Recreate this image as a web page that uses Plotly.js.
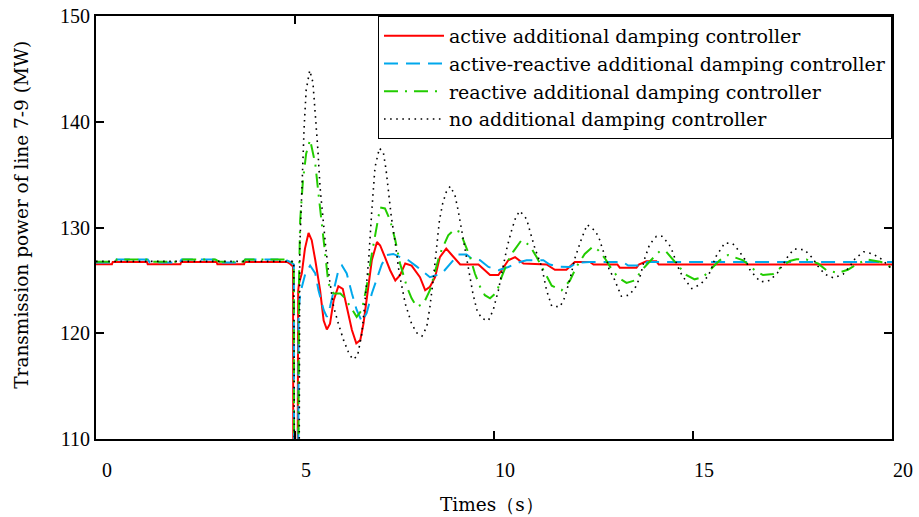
<!DOCTYPE html>
<html>
<head>
<meta charset="utf-8">
<script src="https://cdn.plot.ly/plotly-3.0.1.min.js"></script>
<style>html,body{margin:0;padding:0;background:#fff;}#chart{width:919px;height:517px;}</style>
</head>
<body>
<div id="chart"></div>
<script>
// Series names
var seriesNames = [
  "active additional damping controller",
  "active-reactive additional damping controller",
  "reactive additional damping controller",
  "no additional damping controller"
];
var xTickLabels = ["0", "5", "10", "15", "20"];
var yTickLabels = ["110", "120", "130", "140", "150"];
var xTitle = "Times（s）";
var yTitle = "Transmission power of line 7-9 (MW)";

// active additional damping controller (red)
var activeT = [0, 0.4, 0.42, 1.28, 1.3, 2.12, 2.14, 3.03, 3.05, 3.72, 3.74, 4.8, 4.88, 4.95, 4.96, 5.06, 5.08, 5.10, 5.17, 5.25, 5.34, 5.42, 5.51, 5.63, 5.72, 5.80, 5.88, 5.97, 6.09, 6.20, 6.30, 6.43, 6.54, 6.64, 6.72, 6.82, 6.93, 7.06, 7.14, 7.26, 7.39, 7.52, 7.64, 7.77, 7.93, 8.14, 8.27, 8.39, 8.52, 8.64, 8.80, 8.94, 9.15, 9.61, 9.90, 10.11, 10.36, 10.53, 10.74, 11.32, 11.53, 11.82, 12.03, 12.41, 12.5, 13.1, 13.16, 13.58, 13.64, 13.83, 14.08, 14.14, 20];
var activeV = [126.52, 126.52, 126.74, 126.74, 126.52, 126.52, 126.74, 126.74, 126.52, 126.52, 126.74, 126.74, 126.55, 126.3, 100, 100, 124.0, 124.7, 125.65, 128.0, 129.48, 128.8, 126.9, 124.07, 121.2, 120.36, 120.9, 123.1, 124.45, 124.2, 122.5, 120.3, 119.04, 119.35, 120.9, 123.76, 126.9, 128.63, 128.3, 127.2, 125.96, 125.0, 125.5, 126.6, 126.4, 125.3, 124.07, 124.4, 125.3, 127.2, 128.0, 127.4, 126.5, 126.5, 125.5, 125.5, 126.9, 127.2, 126.6, 126.5, 126.0, 126.0, 126.74, 126.74, 126.5, 126.5, 126.2, 126.2, 126.5, 126.8, 126.8, 126.5, 126.5];

// active-reactive additional damping controller (blue)
var actReactT = [0, 0.5, 0.52, 1.3, 1.35, 2.1, 2.15, 3.0, 3.1, 3.7, 3.75, 4.75, 4.9, 4.97, 4.98, 5.08, 5.09, 5.13, 5.26, 5.38, 5.51, 5.59, 5.72, 5.80, 5.88, 5.97, 6.09, 6.18, 6.30, 6.43, 6.55, 6.68, 6.80, 6.93, 7.06, 7.18, 7.31, 7.47, 7.64, 7.85, 8.06, 8.23, 8.39, 8.69, 8.94, 9.10, 9.31, 9.44, 9.65, 9.86, 10.11, 10.36, 10.65, 10.82, 11.24, 11.40, 11.61, 11.91, 12.07, 12.41, 13.24, 13.37, 13.75, 13.85, 20];
var actReactV = [126.7, 126.7, 126.97, 126.97, 126.7, 126.7, 126.97, 126.97, 126.7, 126.7, 126.97, 126.97, 126.7, 126.5, 100, 100, 122.0, 123.76, 125.65, 126.4, 125.65, 124.07, 122.2, 121.55, 122.5, 124.07, 125.96, 126.4, 125.65, 123.76, 122.2, 121.1, 121.9, 123.76, 125.3, 126.5, 127.4, 127.5, 127.2, 126.9, 126.3, 125.8, 125.3, 125.65, 126.74, 127.44, 127.44, 127.06, 126.9, 126.27, 125.96, 126.27, 126.74, 126.9, 126.9, 126.5, 126.3, 126.27, 126.65, 126.74, 126.74, 126.4, 126.4, 126.74, 126.74];

// reactive additional damping controller (green)
var reactT = [0, 0.5, 0.52, 1.3, 1.35, 2.1, 2.15, 3.0, 3.1, 3.7, 3.75, 4.75, 4.9, 4.97, 4.98, 5.08, 5.10, 5.13, 5.20, 5.28, 5.38, 5.51, 5.59, 5.68, 5.76, 5.84, 5.97, 6.14, 6.26, 6.39, 6.55, 6.68, 6.80, 6.93, 7.06, 7.14, 7.26, 7.39, 7.52, 7.64, 7.81, 7.93, 8.06, 8.23, 8.39, 8.48, 8.64, 8.85, 9.0, 9.15, 9.27, 9.40, 9.52, 9.65, 9.77, 9.90, 10.07, 10.19, 10.36, 10.48, 10.69, 10.90, 11.07, 11.28, 11.45, 11.70, 11.91, 12.07, 12.28, 12.49, 12.62, 12.79, 12.95, 13.12, 13.33, 13.54, 13.71, 13.96, 14.17, 14.33, 14.50, 14.67, 14.84, 15.04, 15.25, 15.46, 15.67, 15.88, 16.05, 16.26, 16.42, 16.55, 16.76, 17.01, 17.22, 17.43, 17.60, 17.85, 18.14, 18.35, 18.64, 18.89, 19.14, 19.39, 19.73, 19.94, 20];
var reactV = [126.75, 126.75, 126.97, 126.97, 126.75, 126.75, 126.97, 126.97, 126.75, 126.75, 126.97, 126.97, 126.8, 126.6, 100, 100, 125.0, 130.7, 134.46, 136.98, 138.3, 136.0, 133.2, 130.05, 126.9, 124.7, 123.76, 123.76, 123.3, 122.5, 121.55, 122.2, 124.4, 127.5, 130.05, 131.9, 131.8, 130.7, 128.8, 126.6, 124.4, 123.3, 122.5, 122.8, 124.07, 125.3, 127.5, 129.26, 129.8, 129.57, 128.5, 127.2, 125.65, 124.4, 123.6, 123.3, 123.9, 125.3, 126.9, 127.7, 128.8, 128.3, 127.2, 125.65, 124.5, 124.07, 125.0, 126.27, 127.5, 128.2, 127.85, 127.06, 126.1, 125.27, 124.76, 125.0, 125.96, 126.97, 127.78, 127.7, 126.9, 126.2, 125.5, 125.1, 125.3, 126.1, 126.9, 127.4, 127.2, 126.9, 126.4, 125.96, 125.5, 125.6, 126.27, 126.84, 127.0, 126.97, 126.6, 125.96, 125.7, 126.0, 126.6, 126.97, 126.74, 126.27, 126.2];

// no additional damping controller (black)
var noneT = [0, 4.97, 4.99, 5.10, 5.12, 5.15, 5.18, 5.23, 5.28, 5.37, 5.45, 5.51, 5.57, 5.63, 5.70, 5.78, 5.87, 5.97, 6.09, 6.22, 6.34, 6.45, 6.57, 6.68, 6.76, 6.85, 6.93, 7.01, 7.12, 7.22, 7.29, 7.35, 7.42, 7.52, 7.62, 7.77, 7.93, 8.06, 8.19, 8.31, 8.39, 8.48, 8.56, 8.63, 8.71, 8.80, 8.90, 9.02, 9.10, 9.19, 9.30, 9.38, 9.47, 9.57, 9.69, 9.86, 9.98, 10.11, 10.23, 10.33, 10.44, 10.55, 10.65, 10.82, 10.90, 11.03, 11.20, 11.32, 11.45, 11.66, 11.78, 11.92, 12.03, 12.20, 12.34, 12.55, 12.66, 12.73, 12.83, 12.89, 13.01, 13.10, 13.20, 13.40, 13.56, 13.66, 13.79, 13.91, 14.08, 14.22, 14.40, 14.50, 14.58, 14.68, 14.82, 14.97, 15.19, 15.38, 15.48, 15.56, 15.70, 15.80, 16.0, 16.17, 16.32, 16.43, 16.59, 16.70, 16.93, 17.12, 17.26, 17.39, 17.54, 17.80, 17.99, 18.14, 18.31, 18.53, 18.77, 18.93, 19.08, 19.29, 19.52, 19.74, 19.94, 20];
var noneV = [126.8, 126.8, 100, 100, 128.16, 131.6, 135.4, 139.5, 142.96, 144.85, 143.74, 140.76, 137.6, 133.8, 130.7, 127.85, 125.0, 122.5, 120.9, 119.35, 118.24, 117.53, 117.84, 119.98, 123.1, 126.9, 131.6, 135.7, 137.5, 137.1, 135.4, 133.2, 131.0, 128.5, 125.65, 122.8, 120.9, 120.04, 119.73, 120.6, 122.5, 125.3, 128.16, 130.7, 132.26, 133.35, 133.9, 133.04, 131.6, 129.7, 127.5, 125.65, 123.76, 122.2, 121.4, 121.2, 122.2, 124.07, 126.27, 128.16, 129.7, 131.0, 131.56, 130.8, 129.7, 128.0, 126.27, 124.07, 122.56, 122.5, 123.4, 125.3, 127.06, 128.95, 130.27, 129.67, 128.8, 127.9, 127.0, 126.05, 125.23, 124.4, 123.5, 123.6, 124.4, 125.23, 127.1, 128.4, 129.17, 129.17, 128.4, 127.6, 126.65, 125.77, 124.95, 124.23, 124.64, 125.4, 126.27, 127.16, 127.97, 128.54, 128.48, 127.7, 126.9, 126.0, 125.27, 124.86, 125.0, 125.7, 126.5, 127.3, 127.97, 127.9, 127.16, 126.34, 125.58, 125.23, 125.58, 126.27, 127.1, 127.7, 127.5, 127.0, 126.27, 126.2];

var serif = "DejaVu Serif, serif";
var traces = [
  {x: activeT, y: activeV, name: seriesNames[0], mode: "lines",
   line: {color: "#ff0000", width: 2}},
  {x: actReactT, y: actReactV, name: seriesNames[1], mode: "lines",
   line: {color: "#00a8ec", width: 2, dash: "14px,8px"}},
  {x: reactT, y: reactV, name: seriesNames[2], mode: "lines",
   line: {color: "#22cc00", width: 2, dash: "14px,7px,2px,7px"}},
  {x: noneT, y: noneV, name: seriesNames[3], mode: "lines",
   line: {color: "#000000", width: 1.6, dash: "1.6px,4.5px"}}
];

var layout = {
  width: 919, height: 517,
  margin: {l: 96, r: 27, t: 16, b: 78, pad: 0},
  paper_bgcolor: "#fff", plot_bgcolor: "#fff",
  showlegend: true,
  legend: {x: 1, y: 1, xanchor: "right", yanchor: "top",
    bgcolor: "#fff", bordercolor: "#000", borderwidth: 1,
    font: {family: serif, size: 19, color: "#000"},
    itemwidth: 60, tracegroupgap: 0},
  xaxis: {range: [0, 20], tickmode: "array", tickvals: [0, 5, 10, 15, 20], ticktext: xTickLabels,
    ticks: "inside", ticklen: 8, tickwidth: 2, tickcolor: "#000",
    showline: true, linewidth: 2, linecolor: "#000", mirror: "ticks",
    showgrid: false, zeroline: false, ticklabelshift: 11, ticklabelstandoff: 12,
    tickfont: {family: "Liberation Serif, serif", size: 20, color: "#000"}},
  yaxis: {range: [110, 150], tickmode: "array", tickvals: [110, 120, 130, 140, 150], ticktext: yTickLabels,
    ticks: "inside", ticklen: 8, tickwidth: 2, tickcolor: "#000",
    showline: true, linewidth: 2, linecolor: "#000", mirror: "ticks",
    showgrid: false, zeroline: false,
    tickfont: {family: "Liberation Serif, serif", size: 20, color: "#000"}},
  annotations: [
    {text: xTitle, xref: "paper", yref: "paper", x: 0.497, y: -0.155, xanchor: "center", yanchor: "middle",
     showarrow: false, font: {family: serif, size: 18.5, color: "#000"}},
    {text: yTitle, xref: "paper", yref: "paper", x: -0.093, y: 0.53, xanchor: "center", yanchor: "middle",
     textangle: -90, showarrow: false, font: {family: serif, size: 18.5, color: "#000"}}
  ]
};

Plotly.newPlot("chart", traces, layout, {staticPlot: true, displayModeBar: false});
</script>
</body>
</html>
